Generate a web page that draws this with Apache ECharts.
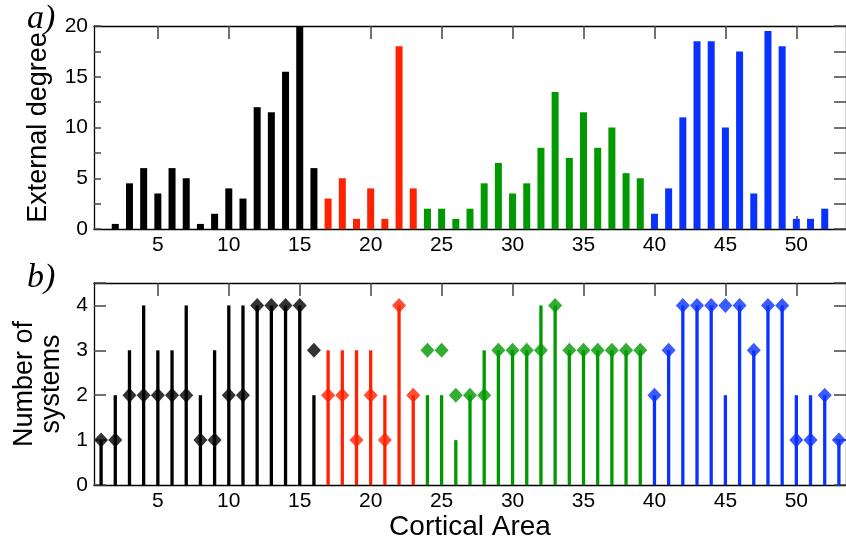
<!DOCTYPE html>
<html>
<head>
<meta charset="UTF-8">
<title>Cortical areas</title>
<script src="https://cdn.jsdelivr.net/npm/echarts@6.0.0/dist/echarts.min.js"></script>
<style>html,body{margin:0;padding:0;background:#fff;}</style>
</head>
<body>
<div id="main" style="width:846px;height:545px;"></div>
<script>
// cortical areas, one category each
var areas = ['1','2','3','4','5','6','7','8','9','10','11','12','13','14','15','16','17','18',
  '19','20','21','22','23','24','25','26','27','28','29','30','31','32','33','34','35','36',
  '37','38','39','40','41','42','43','44','45','46','47','48','49','50','51','52','53'];

// a) external degree of every area
var extDegree = [0, 0.5, 4.5, 6, 3.5, 6, 5, 0.5, 1.5, 4, 3, 12, 11.5, 15.5, 20, 6,
  3, 5, 1, 4, 1, 18, 4,
  2, 2, 1, 2, 4.5, 6.5, 3.5, 4.5, 8, 13.5, 7, 11.5, 8, 10, 5.5, 5,
  1.5, 4, 11, 18.5, 18.5, 10, 17.5, 3.5, 19.5, 18, 1, 1, 2, 0];

// b) number of systems: stem height and diamond height
var stemSystems = [1, 2, 3, 4, 3, 3, 4, 2, 3, 4, 4, 4, 4, 4, 4, 2,
  3, 3, 3, 3, 2, 4, 2,
  2, 2, 1, 2, 3, 3, 3, 3, 4, 4, 3, 3, 3, 3, 3, 3,
  2, 3, 4, 4, 4, 2, 4, 3, 4, 4, 2, 2, 2, 1];
var diamondSystems = [1, 1, 2, 2, 2, 2, 2, 1, 1, 2, 2, 4, 4, 4, 4, 3,
  2, 2, 1, 2, 1, 4, 2,
  3, 3, 2, 2, 2, 3, 3, 3, 3, 4, 3, 3, 3, 3, 3, 3,
  2, 3, 4, 4, 4, 4, 4, 3, 4, 4, 1, 1, 2, 1];

// last area of each system and its colour
var systemLast = [16, 23, 39, 53];
var systemColors = ['#000000', '#ff2200', '#009900', '#0a32ff'];

function colorOf(p) {
  var a = p.dataIndex + 1;
  for (var k = 0; k < systemLast.length; k++) {
    if (a <= systemLast[k]) return systemColors[k];
  }
  return '#000';
}
function every5(index) { return (index + 1) % 5 === 0; }

var font = 'Liberation Sans';
var tickStyle = {color: '#444', width: 1.5};
var frameLine = {show: true, onZero: false, lineStyle: {color: '#000', width: 1.3}};

function catAxis(grid, pos, showLabel, extra) {
  var ax = {
    type: 'category', gridIndex: grid, position: pos, data: areas, boundaryGap: true,
    axisLine: frameLine,
    axisTick: {show: true, inside: true, length: 13, interval: every5, alignWithLabel: true, lineStyle: tickStyle},
    axisLabel: {show: showLabel, interval: every5, fontSize: 21, fontFamily: font, color: '#000', margin: 6},
    splitLine: {show: false}
  };
  for (var k in extra) ax[k] = extra[k];
  return ax;
}

var myChart = echarts.init(document.getElementById('main'));
var option = {
  animation: false,
  backgroundColor: '#fff',
  grid: [
    {left: 94, top: 26, height: 203, right: -3.5},
    {left: 94, top: 283, height: 202, right: -3.5}
  ],
  graphic: [
    {type: 'text', left: 27, top: 2, style: {text: 'a)', font: 'italic 34px "Liberation Serif"', fill: '#000'}},
    {type: 'text', left: 27, top: 261, style: {text: 'b)', font: 'italic 34px "Liberation Serif"', fill: '#000'}}
  ],
  xAxis: [
    catAxis(0, 'bottom', true, {}),
    catAxis(0, 'top', false, {}),
    catAxis(1, 'bottom', true, {
      name: 'Cortical Area', nameLocation: 'middle', nameGap: 23,
      nameTextStyle: {fontSize: 28, fontFamily: font, color: '#000'}
    }),
    catAxis(1, 'top', false, {})
  ],
  yAxis: [
    {type: 'value', gridIndex: 0, position: 'left', min: 0, max: 20, interval: 5,
      name: 'External degree', nameLocation: 'middle', nameGap: 42,
      nameTextStyle: {fontSize: 27, fontFamily: font, color: '#000'},
      axisLine: frameLine,
      axisTick: {show: true, inside: true, length: 7, lineStyle: tickStyle},
      minorTick: {show: true, splitNumber: 2, length: 7, lineStyle: tickStyle},
      axisLabel: {fontSize: 21, fontFamily: font, color: '#000', margin: 6},
      splitLine: {show: false}},
    {type: 'value', gridIndex: 0, position: 'right', min: 0, max: 20, interval: 5,
      axisLine: frameLine,
      axisTick: {show: true, inside: true, length: 12, lineStyle: tickStyle},
      minorTick: {show: true, splitNumber: 2, length: 12, lineStyle: tickStyle},
      axisLabel: {show: false}, splitLine: {show: false}},
    {type: 'value', gridIndex: 1, position: 'left', min: 0, max: 4.5, interval: 1,
      name: 'Number of\nsystems', nameLocation: 'middle', nameGap: 25,
      nameTextStyle: {fontSize: 27, fontFamily: font, color: '#000', lineHeight: 27},
      axisLine: frameLine,
      axisTick: {show: true, inside: true, length: 12, lineStyle: tickStyle},
      axisLabel: {fontSize: 21, fontFamily: font, color: '#000', margin: 6,
        formatter: function (v) { return v % 1 === 0 ? String(v) : ''; }},
      splitLine: {show: false}},
    {type: 'value', gridIndex: 1, position: 'right', min: 0, max: 4.5, interval: 1,
      axisLine: frameLine,
      axisTick: {show: true, inside: true, length: 12, lineStyle: tickStyle},
      axisLabel: {show: false}, splitLine: {show: false}}
  ],
  series: [
    {type: 'bar', xAxisIndex: 0, yAxisIndex: 0, data: extDegree, barWidth: 7,
      itemStyle: {color: colorOf}},
    {type: 'bar', xAxisIndex: 2, yAxisIndex: 2, data: stemSystems, barWidth: 3.3,
      itemStyle: {color: colorOf}},
    {type: 'scatter', xAxisIndex: 2, yAxisIndex: 2, data: diamondSystems,
      symbol: 'diamond', symbolSize: [14, 15], itemStyle: {color: colorOf}, z: 3}
  ]
};
myChart.setOption(option);
</script>
</body>
</html>
